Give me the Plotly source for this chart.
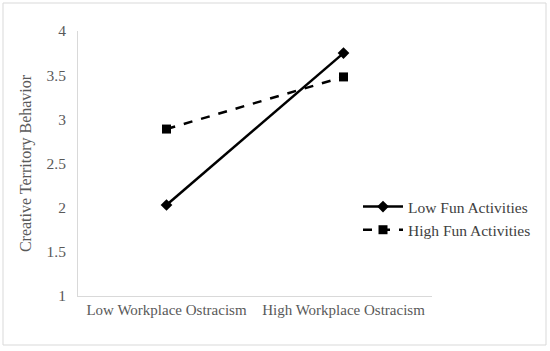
import plotly.graph_objects as go

categories = ["Low Workplace Ostracism", "High Workplace Ostracism"]
low_fun = [2.03, 3.75]
high_fun = [2.89, 3.48]
y_ticks = [1, 1.5, 2, 2.5, 3, 3.5, 4]
y_tick_labels = ["1", "1.5", "2", "2.5", "3", "3.5", "4"]

FONT = "Liberation Serif, Times New Roman, serif"
GRAY = "#595959"

fig = go.Figure()
fig.add_trace(go.Scatter(
    x=categories, y=low_fun, name="Low Fun Activities", mode="lines+markers",
    line=dict(color="black", width=2.5),
    marker=dict(symbol="diamond", size=9, color="black"),
))
fig.add_trace(go.Scatter(
    x=categories, y=high_fun, name="High Fun Activities", mode="lines+markers",
    line=dict(color="black", width=2.5, dash="dash"),
    marker=dict(symbol="square", size=9, color="black"),
))

W, H = 550, 351
L, T = 78, 31
R = 550 - 432
B = 351 - 296
pw, ph = W - L - R, H - T - B

def px(x):
    return (x - L) / pw

def py(y):
    return (H - B - y) / ph

fig.update_layout(
    width=W, height=H,
    margin=dict(l=L, r=R, t=T, b=B),
    paper_bgcolor="white", plot_bgcolor="white",
    font=dict(family=FONT, size=15, color=GRAY),
    showlegend=True,
    legend=dict(x=px(358), y=py(190), xanchor="left", yanchor="top",
                font=dict(family=FONT, size=15.5, color="#404040"),
                bgcolor="rgba(0,0,0,0)", tracegroupgap=9, itemwidth=40),
    xaxis=dict(type="category", showgrid=False, showline=True, linecolor="#d9d9d9",
               linewidth=1, ticks="", tickfont=dict(size=15, color=GRAY),
               range=[-0.5, 1.5]),
    yaxis=dict(range=[1, 4], tickvals=y_ticks, ticktext=y_tick_labels,
               showgrid=False, showline=True, linecolor="#d9d9d9", linewidth=1,
               ticks="", ticklabelstandoff=8, tickfont=dict(size=15.5, color=GRAY),
               zeroline=False,
               title=dict(text="Creative Territory Behavior", font=dict(size=16, color=GRAY),
                          standoff=10)),
    shapes=[dict(type="rect", xref="paper", yref="paper",
                 x0=px(3), x1=px(546), y0=py(345), y1=py(3),
                 line=dict(color="#d9d9d9", width=1), fillcolor="rgba(0,0,0,0)", layer="below")],
)

fig.write_html("out.html", config={"displayModeBar": False},
               post_script="document.body.style.margin='0';")
